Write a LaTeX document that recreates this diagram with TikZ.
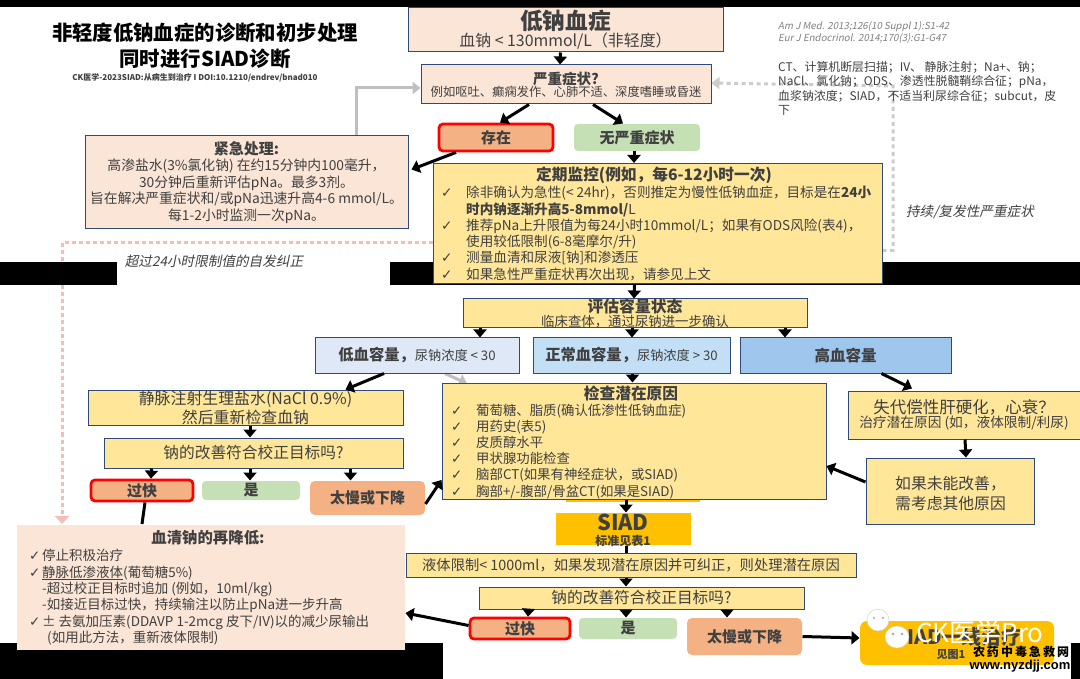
\documentclass[tikz,border=0pt]{standalone}
\usepackage{fontspec}
\usepackage{xcolor}
\usetikzlibrary{arrows.meta, backgrounds, positioning}
\setmainfont{Noto Sans CJK SC}
\newfontfamily\slantfont[FakeSlant=0.2]{Noto Sans CJK SC}
\newfontfamily\checkfont{DejaVu Sans}
\newfontfamily\wwwfont{Liberation Sans}
\definecolor{peachfill}{HTML}{FBE5D6}
\definecolor{creamfill}{HTML}{FFE699}
\definecolor{orangefill}{HTML}{F4B183}
\definecolor{greenfill}{HTML}{C5E0B4}
\definecolor{goldfill}{HTML}{FFC000}
\definecolor{linecol}{HTML}{2F4A78}
\definecolor{txtcol}{HTML}{404040}
\definecolor{pinkline}{HTML}{F4BDB5}
\definecolor{grayline}{HTML}{BFBFBF}
\definecolor{hypofill}{HTML}{DEE8F6}
\definecolor{euvolfill}{HTML}{C2DFF6}
\definecolor{hyperfill}{HTML}{9FC7EE}
\newcommand{\sz}[2]{\fontsize{#1}{#2}\selectfont}
\newcommand{\chk}{\makebox[25pt][l]{{\checkfont\char"2713}}}

\begin{document}
\begin{tikzpicture}[
    x=1pt, y=-1pt,
    wh/.style 2 args={minimum width=#1pt, minimum height=#2pt},
    box/.style={draw=linecol, line width=1pt, inner sep=0pt, align=center, text=txtcol},
    peachbox/.style={box, fill=peachfill},
    creambox/.style={box, fill=creamfill},
    alertbox/.style={box, draw=red, line width=2.8pt, fill=orangefill, rounded corners=4pt, font=\sz{15}{18}\bfseries},
    okbox/.style={box, draw=none, fill=greenfill, rounded corners=4pt, font=\sz{15}{18}\bfseries},
    slowbox/.style={box, draw=none, fill=orangefill, rounded corners=5pt, font=\sz{15}{18}\bfseries},
    goldbox/.style={box, draw=none, fill=goldfill},
    arrow/.style={-{Triangle[length=8pt, width=13pt]}, line width=3pt, black},
    grayarrow/.style={-{Triangle[length=8pt, width=12pt]}, line width=3pt, grayline},
    grayloop/.style={-{Triangle[length=8pt, width=12pt]}, line width=3pt, grayline!80, dash pattern=on 4pt off 3.5pt},
    pinkloop/.style={-{Triangle[length=8pt, width=14pt]}, line width=3pt, pinkline, dash pattern=on 4pt off 3pt},
    blackbar/.style={fill=black},
    note/.style={inner sep=0pt, align=left, anchor=north west, text=txtcol},
    slanted/.style={inner sep=0pt, text=txtcol, font=\slantfont\sz{13.6}{16}},
]
\useasboundingbox (0,0) rectangle (1080,679);

% Title block
\node[inner sep=0pt, align=center, font=\sz{20.4}{26}\bfseries] (title) at (205,46) {非轻度低钠血症的诊断和初步处理\\同时进行SIAD诊断};
\node[inner sep=0pt, font=\sz{8}{10}\bfseries, text=txtcol] (doi) at (195,78) {CK医学-2023SIAD:从病生到治疗 I DOI:10.1210/endrev/bnad010};

% Top of the pathway
\node[peachbox, wh={315}{44}] (sodium) at (565.5,30) {{\sz{22.7}{25}\bfseries 低钠血症}\\{\sz{15.9}{18}血钠 < 130mmol/L（非轻度）}};
\node[peachbox, wh={290}{39}] (severe) at (566,84.5) {{\sz{14.5}{17}\bfseries 严重症状?}\\{\sz{12.3}{15}例如呕吐、癫痫发作、心肺不适、深度嗜睡或昏迷}};
\node[alertbox, wh={114}{27}] (present) at (496,137.5) {存在};
\node[okbox, wh={126}{27}] (nosevere) at (637,137.5) {无严重症状};
\node[peachbox, wh={323}{93}, font=\sz{13.8}{16.4}] (urgent) at (246.5,182.5) {{\sz{15}{18}\bfseries 紧急处理:}\\高渗盐水(3\%氯化钠) 在约15分钟内100毫升，\\30分钟后重新评估pNa。最多3剂。\\旨在解决严重症状和/或pNa迅速升高4-6 mmol/L。\\每1-2小时监测一次pNa。};
\node[creambox, wh={449}{120}] (monitor) at (657.5,223.5) {};
\node[note, font=\sz{13.6}{16.3}] (monitortext) at (441,186) {\chk 除非确认为急性(< 24hr)，否则推定为慢性低钠血症，目标是在\textbf{24小}\\\hspace*{25pt}\textbf{时内钠逐渐升高5-8mmol/}L\\\chk 推荐pNa上升限值为每24小时10mmol/L；如果有ODS风险(表4)，\\\hspace*{25pt}使用较低限制(6-8毫摩尔/升)\\\chk 测量血清和尿液[钠]和渗透压\\\chk 如果急性严重症状再次出现，请参见上文};
\node[inner sep=0pt, font=\sz{15.7}{18}\bfseries, text=txtcol] (monitorhead) at (654,175) {定期监控(例如，每6-12小时一次)};

% Notes on the right
\node[note, font=\slantfont\sz{9.7}{12}, text=gray] (refs) at (778,21) {Am J Med. 2013;126(10 Suppl 1):S1-42\\Eur J Endocrinol. 2014;170(3):G1-G47};
\node[note, font=\sz{11.9}{14.4}] (abbrev) at (778,61) {CT、计算机断层扫描；IV、 静脉注射；Na+、钠；\\NaCl、氯化钠；ODS、渗透性脱髓鞘综合征；pNa，\\血浆钠浓度；SIAD，不适当利尿综合征；subcut，皮\\下};
\node[slanted] (recurlabel) at (970,212) {持续/复发性严重症状};
\node[slanted] (overlabel) at (214,261) {超过24小时限制值的自发纠正};
\coordinate (recurcorner) at (893,86);

% Volume status
\node[creambox, wh={344}{29}] (volume) at (635,313.5) {{\sz{15.8}{16}\bfseries 评估容量状态}\\{\sz{13.4}{16}临床查体，通过尿钠进一步确认}};
\node[box, fill=hypofill, wh={204}{35}] (hypo) at (417,355.5) {{\sz{15.3}{17}\bfseries 低血容量，}{\sz{13.2}{17}尿钠浓度 < 30}};
\node[box, fill=euvolfill, wh={197}{35}] (euvol) at (631.5,355.5) {{\sz{15.3}{17}\bfseries 正常血容量，}{\sz{13.2}{17}尿钠浓度 > 30}};
\node[box, fill=hyperfill, wh={211}{35}, font=\sz{15.5}{17}\bfseries] (hyper) at (845.5,355.5) {高血容量};

% Hypovolaemia branch
\node[creambox, wh={315}{35}, font=\sz{15.9}{19}] (saline) at (245.5,407.5) {静脉注射生理盐水(NaCl 0.9\%)\\然后重新检查血钠};
\node[creambox, wh={299}{30}, font=\sz{15.7}{17}] (checka) at (253.5,453) {钠的改善符合校正目标吗?};
\node[alertbox, wh={102}{21}] (fasta) at (142,490.5) {过快};
\node[okbox, wh={98}{19}] (yesa) at (251,490.5) {是};
\node[slowbox, wh={115}{34}] (slowa) at (367.5,498) {太慢或下降};
\node[peachbox, draw=none, wh={388}{125}] (relower) at (211,587) {};
\node[inner sep=0pt, font=\sz{15.4}{17}\bfseries, text=txtcol] (relowerhead) at (208,538) {血清钠的再降低:};
\node[note, font=\sz{13.5}{16.4}] (relowertext) at (29,549) {\makebox[13pt][l]{{\checkfont\char"2713}}停止积极治疗\\\makebox[13pt][l]{{\checkfont\char"2713}}\underline{静脉低渗液体}(葡萄糖5\%)\\\hspace*{13pt}-超过校正目标时追加 (例如，10ml/kg)\\\hspace*{13pt}-如接近目标过快，持续输注以防止pNa进一步升高\\\makebox[13pt][l]{{\checkfont\char"2713}}± 去氨加压素(DDAVP 1-2mcg 皮下/IV)以的减少尿输出\\\hspace*{18pt}(如用此方法，重新液体限制)};

% Causes and SIAD
\node[creambox, wh={384}{116}] (causes) at (634,441) {};
\node[inner sep=0pt, font=\sz{15.7}{17}\bfseries, text=txtcol] (causeshead) at (631,393) {检查潜在原因};
\node[note, font=\sz{13.4}{16.1}] (causestext) at (451,404) {\chk 葡萄糖、脂质(确认低渗性低钠血症)\\\chk 用药史(表5)\\\chk 皮质醇水平\\\chk 甲状腺功能检查\\\chk 脑部CT(如果有神经症状，或SIAD)\\\chk 胸部+/-腹部/骨盆CT(如果是SIAD)};
\node[goldbox, wh={135}{32}] (siad) at (623,529) {};
\node[inner sep=0pt, font=\sz{21.7}{24}\bfseries, text=txtcol] (siadname) at (623,522) {SIAD};
\node[inner sep=0pt, font=\sz{12}{13}\bfseries, text=txtcol] (siadnote) at (623,541) {标准见表1};
\node[creambox, wh={450}{24}, font=\sz{14.3}{16}] (fluid) at (631,565) {液体限制< 1000ml，如果发现潜在原因并可纠正，则处理潜在原因};
\node[creambox, wh={325}{22}, font=\sz{15.7}{17}] (checkb) at (641.5,598) {钠的改善符合校正目标吗?};
\node[alertbox, wh={100}{21}] (fastb) at (520,628.5) {过快};
\node[okbox, wh={98}{21}] (yesb) at (628,628.5) {是};
\node[slowbox, wh={115}{37}] (slowb) at (744.5,636.5) {太慢或下降};
\node[goldbox, rounded corners=7pt, wh={194}{44}] (firstline) at (957,643) {};
\node[inner sep=0pt, font=\sz{20}{24}\bfseries, text=txtcol] (firstname) at (958,637) {SIAD一线治疗};
\node[inner sep=0pt, font=\sz{11}{13}\bfseries, text=txtcol] (firstnote) at (951,655) {见图1};

% Hypervolaemia branch
\node[creambox, wh={232}{48}] (decomp) at (964,415) {{\sz{16.5}{19}失代偿性肝硬化，心衰？}\\{\sz{13.7}{16}治疗潜在原因 (如，液体限制/利尿)}};
\node[creambox, wh={168}{66}] (retry) at (950,491) {};
\node[note, font=\sz{15.8}{20}] (retrytext) at (895,476) {如果未能改善，\\需考虑其他原因};

% Connectors
\draw[arrow] ([xshift=-5pt]sodium.south) -- ([xshift=-6pt]severe.north);
\draw[arrow] ([xshift=-37pt]severe.south) -- ([xshift=4pt]present.north);
\draw[arrow] ([xshift=27pt]severe.south) -- ([xshift=-14pt]nosevere.north);
\draw[arrow] ([xshift=-40pt]present.south) -- ([xshift=3pt, yshift=13pt]urgent.east);
\draw[arrow] ([xshift=-3pt]nosevere.south) -- ([xshift=-3pt]nosevere.south |- monitor.north);
\draw[arrow] ([xshift=-23pt]monitor.south) -- ([xshift=-1pt]volume.north);
\draw[arrow] ([xshift=-155pt]volume.south) -- ([xshift=-155pt]volume.south |- hypo.north);
\draw[arrow] ([xshift=-3pt]volume.south) -- ([xshift=-3pt]volume.south |- euvol.north);
\draw[arrow] ([xshift=150pt]volume.south) -- ([xshift=150pt]volume.south |- hyper.north);
\draw[arrow] ([xshift=-33pt]hypo.south) -- ([xshift=100pt]saline.north);
\draw[arrow] ([xshift=1pt]euvol.south) -- ([xshift=-1.5pt]causes.north);
\draw[arrow] ([xshift=36pt]hyper.south) -- ([xshift=-52pt, yshift=2pt]decomp.north);
\draw[arrow] ([xshift=4.5pt]saline.south) -- ([xshift=-3.5pt]checka.north);
\draw[arrow] ([xshift=-102pt]checka.south) -- ([xshift=9pt]fasta.north);
\draw[arrow] ([xshift=-3.5pt]checka.south) -- ([xshift=-1pt]yesa.north);
\draw[arrow] ([xshift=97pt]checka.south) -- ([xshift=97pt]checka.south |- slowa.north);
\draw[line width=3pt] ([xshift=3pt]fasta.south) -- ([xshift=-69pt]relower.north);
\draw[arrow] ([yshift=-6pt]slowa.east) -- ([yshift=-39pt]causes.west);
\draw[arrow] ([yshift=9pt]retry.west) -- ([yshift=-25pt]causes.east);
\draw[arrow] ([xshift=1pt]decomp.south) -- ([xshift=2pt]decomp.south |- retry.north);
\draw[arrow] ([xshift=-8pt]causes.south) -- ([xshift=3pt]siad.north);
\draw[line width=3pt] ([xshift=3pt]siad.south) -- ([xshift=-5pt]fluid.north);
\draw[arrow] ([xshift=-5pt]fluid.south) -- ([xshift=-15.5pt]checkb.north);
\draw[arrow] ([xshift=-113pt]checkb.south) -- ([xshift=8pt]fastb.north);
\draw[arrow] ([xshift=-15.5pt]checkb.south) -- ([xshift=-2pt]yesb.north);
\draw[arrow] ([xshift=85.5pt]checkb.south) -- ([xshift=85.5pt]checkb.south |- slowb.north);
\draw[arrow] ([yshift=3pt]fastb.west) -- ([yshift=-26pt]relower.east);
\draw[arrow] (slowb.east) -- ([yshift=5pt]firstline.west);

% Faint connectors and black bars sit behind the boxes
\begin{scope}[on background layer]
\fill[white] (0,0) rectangle (1080,679);
\draw[grayarrow] ([xshift=110pt]urgent.north) |- ([yshift=-3.5pt]severe.west);
\draw[grayloop] ([yshift=-27pt]monitor.east) -| (recurcorner) -- ([yshift=1.5pt]severe.east);
\draw[pinkloop] ([yshift=-19.5pt]monitor.west) -| ([xshift=-149pt]relower.north);
\draw[grayarrow] ([xshift=28pt]hypo.south) -- ([xshift=-167pt, yshift=-1pt]causes.north);
\fill[goldfill] (566,495) rectangle (700,502);
\fill[blackbar] (0,0) rectangle (1080,7);
\fill[blackbar] (0,262) rectangle (117,285);
\fill[blackbar] (390,262) rectangle (1080,285);
\fill[blackbar] (0,643) rectangle (443,679);
\fill[blackbar] (1071,643) rectangle (1080,679);
\end{scope}

% Watermark
\draw[gray!40, fill=white] (878,620) ellipse (11pt and 11pt);
\draw[gray!40, fill=white] (897,637) ellipse (12pt and 11pt);
\fill[gray!70] (874,618) circle (1.2pt) (883,618) circle (1.2pt) (893,634) circle (1.4pt) (902,634) circle (1.4pt);
\node[inner sep=0pt, font=\sz{26}{30}, text=white] (mark) at (980,632) {CK医学Pro};
\node[inner sep=0pt, font=\sz{12}{14}\bfseries, text=black] (markcn) at (1021,652) {农\,药\,中\,毒\,急\,救\,网};
\node[inner sep=0pt, font=\wwwfont\sz{13}{15}\bfseries, text=black] (markweb) at (1020,666) {www.nyzdjj.com};
\end{tikzpicture}
\end{document}
